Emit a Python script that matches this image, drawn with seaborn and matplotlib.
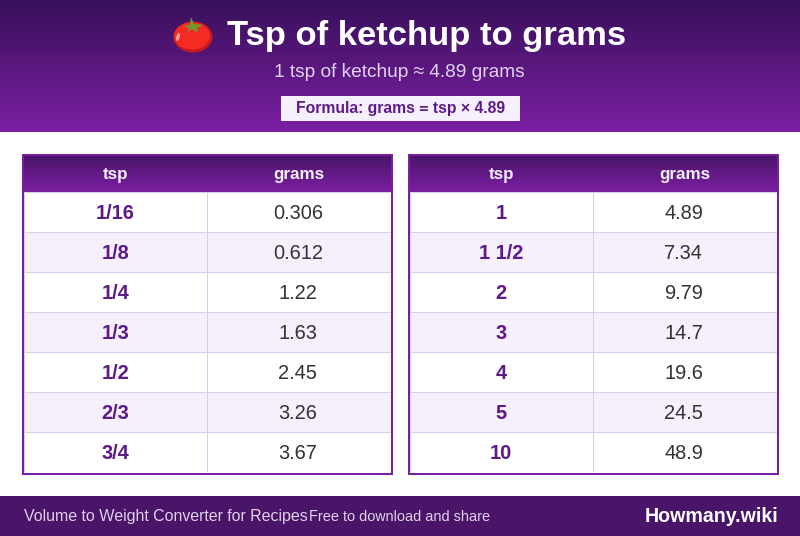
# ketchup tsp to grams conversion card
import numpy as np
import pandas as pd
import seaborn as sns
import matplotlib.pyplot as plt
from matplotlib.colors import LinearSegmentedColormap, ListedColormap
from matplotlib.patches import Ellipse, Polygon, Rectangle

title = "Tsp of ketchup to grams"
subtitle = "1 tsp of ketchup ≈ 4.89 grams"
formula = "Formula: grams = tsp × 4.89"
footer_left = "Volume to Weight Converter for Recipes"
footer_mid = "Free to download and share"
footer_right = "Howmany.wiki"
col_names = ["tsp", "grams"]

tsp_left = ["1/16", "1/8", "1/4", "1/3", "1/2", "2/3", "3/4"]
grams_left = ["0.306", "0.612", "1.22", "1.63", "2.45", "3.26", "3.67"]
tsp_right = ["1", "1 1/2", "2", "3", "4", "5", "10"]
grams_right = ["4.89", "7.34", "9.79", "14.7", "19.6", "24.5", "48.9"]

W, H = 800, 536
PURPLE = "#7b1fa2"
DARK = "#4a1568"
TEXT_PURPLE = "#5e1a87"
LINE = "#dccbea"
STRIPE = "#f5f0fb"

sns.set_theme(style="white")
plt.rcParams['font.family'] = ['Liberation Sans', 'DejaVu Sans']
plt.rcParams['text.hinting'] = 'native'

fig = plt.figure(figsize=(W / 100, H / 100), dpi=100, facecolor="white")
canvas = fig.add_axes([0, 0, 1, 1])
canvas.set_xlim(0, W)
canvas.set_ylim(H, 0)
canvas.axis("off")


def px(size):
    return size * 0.72


def gradient(ax, x0, x1, y0, y1, top, bottom, z=1):
    cmap = LinearSegmentedColormap.from_list("g", [top, bottom])
    ax.imshow(np.linspace(0, 1, 128).reshape(-1, 1), cmap=cmap, aspect="auto",
              extent=[x0, x1, y1, y0], zorder=z, interpolation="bilinear")
    ax.set_xlim(0, W)
    ax.set_ylim(H, 0)


def tomato(ax, cx, cy):
    ax.add_patch(Ellipse((cx, cy + 2), 39, 31, color="#c81a1e", lw=0, zorder=3))
    ax.add_patch(Ellipse((cx - 1, cy + 1), 36, 27, color="#f42b25", lw=0, zorder=3))
    ax.add_patch(Ellipse((cx - 15, cy + 2), 3.5, 8, angle=15, color="#f8a09a", lw=0, zorder=4))
    leaf = [(cx - 10, cy - 9), (cx - 3, cy - 10), (cx - 2, cy - 18), (cx + 1, cy - 11),
            (cx + 10, cy - 10), (cx + 4, cy - 7), (cx + 5, cy - 2), (cx - 1, cy - 6),
            (cx - 6, cy - 3), (cx - 4, cy - 7)]
    ax.add_patch(Polygon(leaf, closed=True, color="#6f9a2b", lw=0, zorder=5))


def draw_table(x0, tsp, grams):
    # gradient header, stripes through a heatmap, outer frame on top of both
    gradient(canvas, x0 + 2, x0 + 369, 156, 192, DARK, PURPLE)
    for name, cx in zip(col_names, [x0 + 93.5, x0 + 276.5]):
        canvas.text(cx, 179, name, color="#f5f0fb", fontsize=px(17), fontweight="bold",
                    ha="center", va="baseline", zorder=7)

    ax = fig.add_axes([(x0 + 1.5) / W, 1 - 472 / H, 367 / W, 280 / H])
    rows = pd.DataFrame({col_names[0]: tsp, col_names[1]: grams})
    stripes = np.array([[i % 2, i % 2] for i in range(len(rows))])
    sns.heatmap(stripes, ax=ax, cmap=ListedColormap(["white", STRIPE]), cbar=False,
                linewidths=0.72, linecolor=LINE, xticklabels=False, yticklabels=False)
    ax.set_xlim(0, 2)
    ax.set_ylim(len(rows), 0)
    for spine in ax.spines.values():
        spine.set_visible(False)
    for i, row in rows.iterrows():
        ax.text(0.5, i + 0.68, row[col_names[0]], color=TEXT_PURPLE, fontsize=px(20),
                fontweight="bold", ha="center", va="baseline")
        ax.text(1.495, i + 0.68, row[col_names[1]], color="#333333", fontsize=px(20),
                ha="center", va="baseline")

    # four solid strips for the border, above the heatmap axes
    strips = [(x0, 154, 371, 2), (x0, 473, 371, 2), (x0, 154, 2, 321), (x0 + 369, 154, 2, 321)]
    for sx, sy, sw, sh in strips:
        fig.add_artist(Rectangle((sx, sy), sw, sh, fc=PURPLE, lw=0,
                                 transform=canvas.transData, zorder=6))


gradient(canvas, 0, W, 0, 132, "#38105a", PURPLE)
tomato(canvas, 193, 35)
canvas.text(427, 45, title, color="white", fontsize=px(34.6), fontweight="bold",
            ha="center", va="baseline", zorder=3)
canvas.text(399, 77, subtitle, color="#e1d2ee", fontsize=px(19), ha="center", va="baseline", zorder=3)
canvas.add_patch(Rectangle((281, 96), 239, 25, color=STRIPE, lw=0, zorder=3))
canvas.text(400.5, 113, formula, color=TEXT_PURPLE, fontsize=px(15.7), fontweight="bold",
            ha="center", va="baseline", zorder=4)

draw_table(22, tsp_left, grams_left)
draw_table(408, tsp_right, grams_right)

canvas.add_patch(Rectangle((0, 496), W, 40, color=DARK, lw=0, zorder=2))
canvas.text(24, 521, footer_left, color="#e1d2ee", fontsize=px(15.9), ha="left", va="baseline", zorder=3)
canvas.text(309, 521, footer_mid, color="#e1d2ee", fontsize=px(14.5), ha="left", va="baseline", zorder=3)
canvas.text(778, 522, footer_right, color="white", fontsize=px(19.6), fontweight="bold",
            ha="right", va="baseline", zorder=3)

fig.savefig("out.png", dpi=100, facecolor="white")
